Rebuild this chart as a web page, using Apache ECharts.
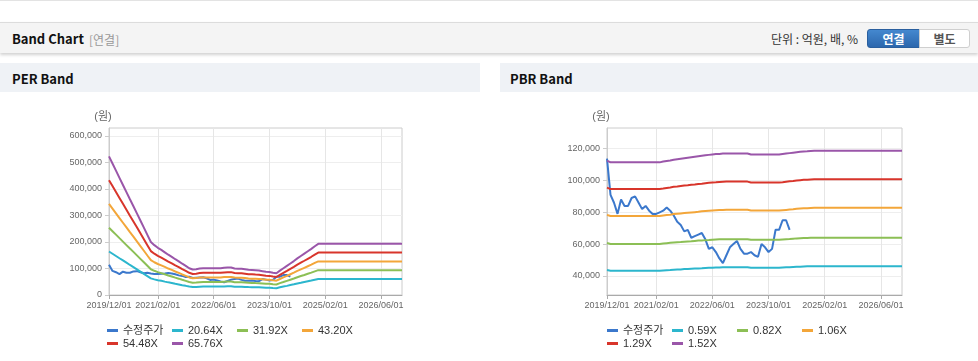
<!DOCTYPE html>
<html><head><meta charset="utf-8">
<script src="https://cdn.jsdelivr.net/npm/echarts@6/dist/echarts.min.js"></script>
<style>
html,body{margin:0;padding:0;background:#fff;width:978px;height:361px;overflow:hidden;font-family:'Noto Sans CJK KR','Noto Sans',Arial,sans-serif;}
.abs{position:absolute;white-space:nowrap;}
#topline{left:0;top:0;width:978px;height:1px;background:#e3e3e3;}
#hdr{left:0;top:22px;width:978px;height:30px;background:#f4f4f4;border-top:1px solid #dcdcdc;box-shadow:0 2px 3px rgba(0,0,0,0.18);}
.bold{font-weight:bold;font-size:13px;color:#111;line-height:16px;}
.sub{font-size:12px;color:#999;line-height:16px;}
.unit{font-size:12px;color:#333;line-height:16px;}
.btn{top:29px;height:17px;line-height:17px;font-size:12px;font-weight:bold;text-align:center;}
#b1{left:867px;width:51px;background:linear-gradient(#4488cf,#2c67ad);border:1px solid #2a5f9e;border-radius:3px 0 0 3px;color:#fff;}
#b2{left:919px;width:49px;background:#fff;border:1px solid #cfcfcf;border-radius:0 3px 3px 0;color:#555;}
.sec{top:63px;height:29px;background:#eff2f6;}
#chart{position:absolute;left:0;top:0;width:978px;height:361px;z-index:5;}
</style></head>
<body>
<div id="topline" class="abs"></div>
<div id="hdr" class="abs"></div>
<div class="abs bold" style="left:12px;top:31px;">Band Chart</div>
<div class="abs sub" style="left:89px;top:32px;">[연결]</div>
<div class="abs unit" style="left:771px;top:31px;">단위 : 억원, 배, %</div>
<div id="b1" class="abs btn">연결</div>
<div id="b2" class="abs btn">별도</div>
<div class="abs sec" style="left:0;width:480px;"></div>
<div class="abs sec" style="left:500px;width:478px;"></div>
<div class="abs bold" style="left:12px;top:71px;">PER Band</div>
<div class="abs bold" style="left:510px;top:71px;">PBR Band</div>
<div id="chart"></div>
<script>
const months = ['2019/12/01',
'2020/01/01','2020/02/01','2020/03/01','2020/04/01','2020/05/01','2020/06/01','2020/07/01','2020/08/01','2020/09/01','2020/10/01','2020/11/01','2020/12/01',
'2021/01/01','2021/02/01','2021/03/01','2021/04/01','2021/05/01','2021/06/01','2021/07/01','2021/08/01','2021/09/01','2021/10/01','2021/11/01','2021/12/01',
'2022/01/01','2022/02/01','2022/03/01','2022/04/01','2022/05/01','2022/06/01','2022/07/01','2022/08/01','2022/09/01','2022/10/01','2022/11/01','2022/12/01',
'2023/01/01','2023/02/01','2023/03/01','2023/04/01','2023/05/01','2023/06/01','2023/07/01','2023/08/01','2023/09/01','2023/10/01','2023/11/01','2023/12/01',
'2024/01/01','2024/02/01','2024/03/01','2024/04/01','2024/05/01','2024/06/01','2024/07/01','2024/08/01','2024/09/01','2024/10/01','2024/11/01','2024/12/01',
'2025/01/01','2025/02/01','2025/03/01','2025/04/01','2025/05/01','2025/06/01','2025/07/01','2025/08/01','2025/09/01','2025/10/01','2025/11/01','2025/12/01',
'2026/01/01','2026/02/01','2026/03/01','2026/04/01','2026/05/01','2026/06/01','2026/07/01','2026/08/01','2026/09/01','2026/10/01','2026/11/01','2026/12/01'];
const xTickLabels = ['2019/12/01','2021/02/01','2022/06/01','2023/10/01','2025/02/01','2026/06/01'];
const perYTicks = [0,100000,200000,300000,400000,500000,600000];
const pbrYTicks = [40000,60000,80000,100000,120000];

const price = [113700,91000,86000,79000,88000,84000,84000,89000,90000,86000,82000,84000,81000,79000,79000,80000,81000,83000,81000,78000,74000,72000,68000,69000,64000,65000,66000,67000,63000,57000,58000,55000,51000,48000,53000,58000,60000,62000,57000,54000,54000,55000,53000,52000,60000,58000,55000,57000,69000,69000,75000,75000,69000];

const perNames = ['수정주가','20.64X','31.92X','43.20X','54.48X','65.76X'];
const per2064 = [164200,155700,147200,138700,130300,121800,113300,105200,96700,88200,79700,71300,62800,59000,55900,53400,50500,47700,45200,42400,39900,37000,34500,31700,30100,30400,31400,31700,31700,31700,31700,31700,31700,32300,32600,32600,31400,31100,31100,30400,29800,29500,29200,28900,28300,27600,27300,26400,25700,28900,31700,34500,37400,40200,43300,46100,49000,51800,54600,57800,60600,60600,60600,60600,60600,60600,60600,60600,60600,60600,60600,60600,60600,60600,60600,60600,60600,60600,60600,60600,60600,60600,60600,60600,60600];
const per3192 = [253900,240800,227700,214500,201400,188300,175200,162600,149500,136400,123300,110200,97100,91300,86400,82500,78100,73800,69900,65500,61600,57300,53400,49000,46600,47100,48500,49000,49000,49000,49000,49000,49000,50000,50500,50500,48500,48100,48100,47100,46100,45600,45100,44700,43700,42700,42200,40800,39800,44700,49000,53400,57800,62100,67000,71400,75700,80100,84500,89300,93700,93700,93700,93700,93700,93700,93700,93700,93700,93700,93700,93700,93700,93700,93700,93700,93700,93700,93700,93700,93700,93700,93700,93700,93700];
const per4320 = [343600,325800,308100,290300,272600,254900,237100,220100,202300,184600,166900,149100,131400,123500,116900,111700,105800,99800,94600,88700,83400,77500,72300,66300,63100,63700,65700,66300,66300,66300,66300,66300,66300,67700,68300,68300,65700,65000,65000,63700,62400,61700,61100,60400,59100,57800,57200,55200,53900,60400,66300,72300,78200,84100,90700,96600,102500,108400,114300,120900,126800,126800,126800,126800,126800,126800,126800,126800,126800,126800,126800,126800,126800,126800,126800,126800,126800,126800,126800,126800,126800,126800,126800,126800,126800];
const per5448 = [433300,410900,388600,366200,343800,321500,299100,277500,255200,232800,210400,188100,165700,155800,147500,140800,133400,125900,119300,111800,105200,97800,91100,83700,79500,80400,82900,83700,83700,83700,83700,83700,83700,85300,86200,86200,82900,82000,82000,80400,78700,77900,77000,76200,74600,72900,72100,69600,67900,76200,83700,91100,98600,106000,114300,121800,129200,136700,144200,152400,159900,159900,159900,159900,159900,159900,159900,159900,159900,159900,159900,159900,159900,159900,159900,159900,159900,159900,159900,159900,159900,159900,159900,159900,159900];
const per6576 = [523000,496000,469000,442000,415000,388000,361000,335000,308000,281000,254000,227000,200000,188000,178000,170000,161000,152000,144000,135000,127000,118000,110000,101000,96000,97000,100000,101000,101000,101000,101000,101000,101000,103000,104000,104000,100000,99000,99000,97000,95000,94000,93000,92000,90000,88000,87000,84000,82000,92000,101000,110000,119000,128000,138000,147000,156000,165000,174000,184000,193000,193000,193000,193000,193000,193000,193000,193000,193000,193000,193000,193000,193000,193000,193000,193000,193000,193000,193000,193000,193000,193000,193000,193000,193000];

const pbrNames = ['수정주가','0.59X','0.82X','1.06X','1.29X','1.52X'];
const pbr059 = [43700,43200,43200,43200,43200,43200,43200,43200,43200,43200,43200,43200,43200,43200,43200,43200,43400,43600,43700,43900,44000,44100,44300,44400,44500,44600,44700,44800,45000,45100,45200,45300,45300,45400,45400,45400,45400,45400,45400,45400,45400,45100,45100,45100,45100,45100,45100,45100,45100,45100,45300,45400,45500,45600,45700,45800,45900,46000,46000,46100,46100,46100,46100,46100,46100,46100,46100,46100,46100,46100,46100,46100,46100,46100,46100,46100,46100,46100,46100,46100,46100,46100,46100,46100,46100];
const pbr082 = [60700,60100,60100,60100,60100,60100,60100,60100,60100,60100,60100,60100,60100,60100,60100,60100,60400,60600,60800,61000,61200,61300,61500,61700,61800,62000,62200,62300,62500,62600,62800,62900,63000,63100,63100,63100,63100,63100,63100,63100,63100,62700,62700,62700,62700,62700,62700,62700,62700,62700,62900,63100,63200,63400,63600,63700,63800,63900,64000,64000,64000,64000,64000,64000,64000,64000,64000,64000,64000,64000,64000,64000,64000,64000,64000,64000,64000,64000,64000,64000,64000,64000,64000,64000,64000];
const pbr106 = [78400,77700,77700,77700,77700,77700,77700,77700,77700,77700,77700,77700,77700,77700,77700,77700,78000,78300,78500,78900,79100,79300,79500,79700,79900,80100,80300,80600,80800,81000,81200,81300,81400,81500,81600,81600,81600,81600,81600,81600,81600,81100,81100,81100,81100,81100,81100,81100,81100,81100,81300,81500,81700,81900,82200,82400,82500,82600,82700,82800,82800,82800,82800,82800,82800,82800,82800,82800,82800,82800,82800,82800,82800,82800,82800,82800,82800,82800,82800,82800,82800,82800,82800,82800,82800];
const pbr129 = [95500,94600,94600,94600,94600,94600,94600,94600,94600,94600,94600,94600,94600,94600,94600,94600,94900,95300,95600,96000,96200,96500,96800,97000,97300,97500,97800,98000,98300,98600,98800,98900,99100,99200,99300,99300,99300,99300,99300,99300,99300,98700,98700,98700,98700,98700,98700,98700,98700,98700,98900,99200,99500,99700,100000,100200,100400,100500,100600,100700,100700,100700,100700,100700,100700,100700,100700,100700,100700,100700,100700,100700,100700,100700,100700,100700,100700,100700,100700,100700,100700,100700,100700,100700,100700];
const pbr152 = [112500,111400,111400,111400,111400,111400,111400,111400,111400,111400,111400,111400,111400,111400,111400,111400,111900,112300,112600,113100,113400,113700,114000,114300,114600,114900,115200,115500,115800,116100,116400,116600,116700,116900,117000,117000,117000,117000,117000,117000,117000,116300,116300,116300,116300,116300,116300,116300,116300,116300,116600,116900,117200,117500,117800,118100,118300,118400,118600,118700,118700,118700,118700,118700,118700,118700,118700,118700,118700,118700,118700,118700,118700,118700,118700,118700,118700,118700,118700,118700,118700,118700,118700,118700,118700];

const colors = ['#3b78cc','#2cb6cd','#8cbf55','#f3a63a','#d8352b','#9a56a9'];
const FONT = "Arial, 'Liberation Sans', 'Noto Sans CJK KR', sans-serif";
const showTick = (i, v) => xTickLabels.indexOf(v) >= 0;
const fmt = v => Number(v).toLocaleString('en-US');

function xAxis(gi) {
  return {type:'category', gridIndex:gi, data:months, boundaryGap:false,
    axisLine:{lineStyle:{color:'#aaa'}},
    axisTick:{interval:showTick, length:4, lineStyle:{color:'#aaa'}},
    axisLabel:{interval:showTick, margin:6, fontSize:9, color:'#666', fontFamily:FONT},
    splitLine:{show:true, interval:showTick, lineStyle:{color:'#e6e6e6'}}};
}
function yAxis(gi, min, max, ticks) {
  return {type:'value', gridIndex:gi, min:min, max:max,
    name:'(원)', nameLocation:'end', nameGap:6,
    nameTextStyle:{color:'#666', fontSize:11, fontFamily:FONT, padding:[0,12,0,0]},
    axisLine:{show:true, lineStyle:{color:'#ccc'}},
    axisTick:{show:true, length:4, customValues:ticks, lineStyle:{color:'#ccc'}},
    axisLabel:{customValues:ticks, fontSize:9, color:'#666', margin:7, fontFamily:FONT, formatter:fmt},
    splitLine:{show:true, lineStyle:{color:'#eee'}}};
}
function legend(left, names) {
  return {left:left, top:324, width:262, itemGap:0, itemWidth:11, itemHeight:3, icon:'rect',
    selectedMode:false, padding:0, data:names,
    textStyle:{fontSize:11, color:'#333', width:49, lineHeight:13, fontFamily:FONT}};
}
function line(name, data, gi, color) {
  return {name:name, type:'line', xAxisIndex:gi, yAxisIndex:gi, data:data, showSymbol:false,
    symbol:'none', lineStyle:{width:2, color:color}, itemStyle:{color:color}};
}
const perData = [price, per2064, per3192, per4320, per5448, per6576];
const pbrData = [price, pbr059, pbr082, pbr106, pbr129, pbr152];
const series = [];
perNames.forEach((n, i) => series.push(line(n, perData[i], 0, colors[i])));
pbrNames.forEach((n, i) => series.push(line(n, pbrData[i], 1, colors[i])));

const chart = echarts.init(document.getElementById('chart'), null, {renderer:'canvas'});
chart.setOption({
  animation:false,
  textStyle:{fontFamily:FONT},
  grid:[{left:109, top:128, width:293, height:167, show:true, borderColor:'#ccc', borderWidth:1},
        {left:607, top:128, width:295, height:167, show:true, borderColor:'#ccc', borderWidth:1}],
  xAxis:[xAxis(0), xAxis(1)],
  yAxis:[yAxis(0, 0, 630000, perYTicks), yAxis(1, 28000, 133000, pbrYTicks)],
  legend:[legend(107, perNames), legend(607, pbrNames)],
  series:series
});
</script>
</body></html>
